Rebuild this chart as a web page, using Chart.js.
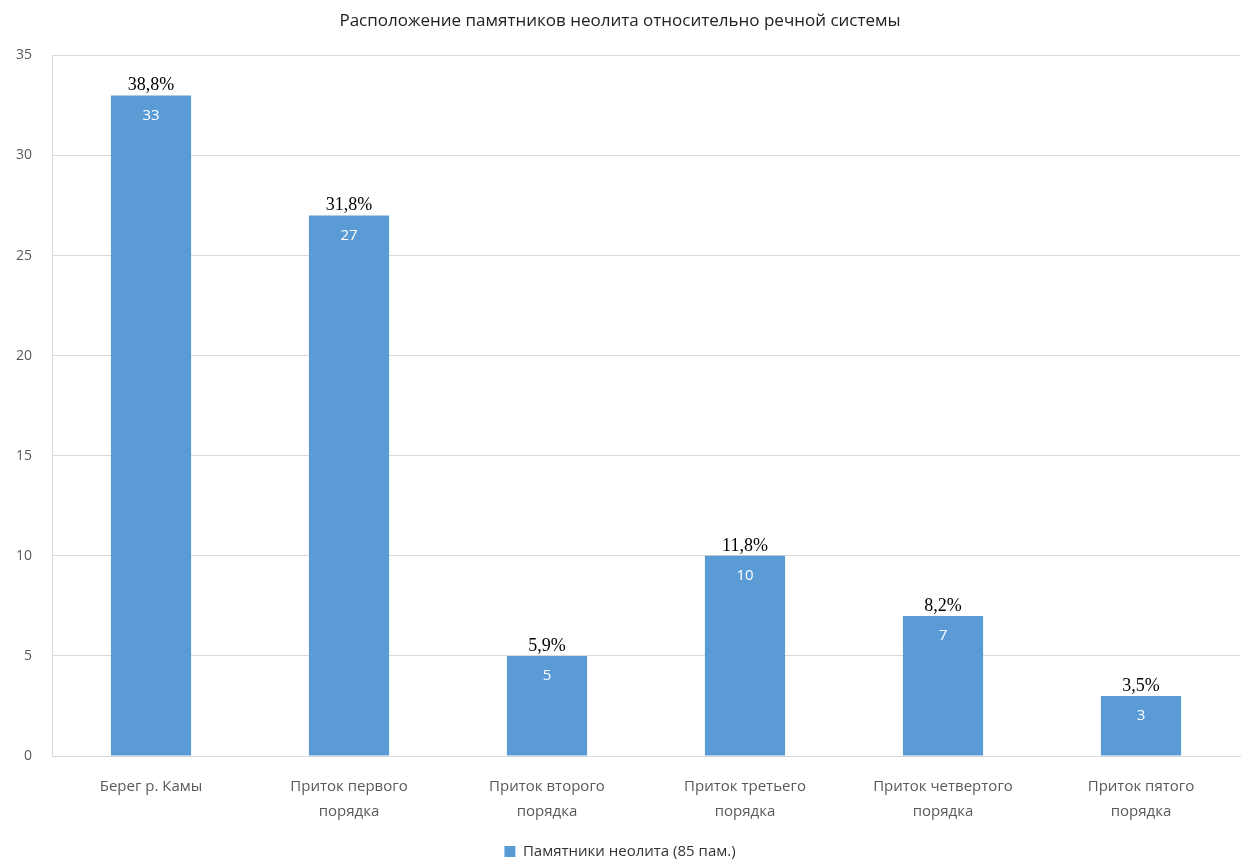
<!DOCTYPE html>
<html>
<head>
<meta charset="utf-8">
<script src="https://cdn.jsdelivr.net/npm/chart.js@4/dist/chart.umd.min.js"></script>
<style>
  html, body { margin: 0; padding: 0; background: #fff; }
  #wrap { width: 1246px; height: 863px; }
</style>
</head>
<body>
<div id="wrap"><canvas id="myChart" width="1246" height="863"></canvas></div>
<script>
// data
const categories = [
  ['Берег р. Камы'],
  ['Приток первого', 'порядка'],
  ['Приток второго', 'порядка'],
  ['Приток третьего', 'порядка'],
  ['Приток четвертого', 'порядка'],
  ['Приток пятого', 'порядка']
]
const counts = [33, 27, 5, 10, 7, 3]
const percents = ['38,8%', '31,8%', '5,9%', '11,8%', '8,2%', '3,5%']
const seriesName = 'Памятники неолита (85 пам.)'

const sans = "'Open Sans', 'Noto Sans', sans-serif"

// numbers inside the bars and percents above them
const barLabels = {
  id: 'barLabels',
  afterDatasetsDraw(chart) {
    const ctx = chart.ctx
    const meta = chart.getDatasetMeta(0)
    ctx.save()
    ctx.textAlign = 'center'
    meta.data.forEach((bar, i) => {
      ctx.fillStyle = '#ffffff'
      ctx.font = "15px " + sans
      ctx.textBaseline = 'middle'
      ctx.fillText(counts[i], bar.x, bar.y + 20)
      ctx.fillStyle = '#000000'
      ctx.font = "18px 'Liberation Serif', 'DejaVu Serif', serif"
      ctx.textBaseline = 'bottom'
      ctx.fillText(percents[i], bar.x, bar.y - 1)
    })
    ctx.restore()
  }
}

const ctx = document.getElementById('myChart').getContext('2d')
const myChart = new Chart(ctx, {
  type: 'bar',
  data: {
    labels: categories,
    datasets: [{
      label: seriesName,
      data: counts,
      backgroundColor: '#5b9bd5',
      barPercentage: 0.81,
      categoryPercentage: 0.5
    }]
  },
  options: {
    responsive: false,
    animation: false,
    layout: { padding: { left: 0, right: 6, top: 0, bottom: -6 } },
    plugins: {
      title: {
        display: true,
        text: 'Расположение памятников неолита относительно речной системы',
        color: '#222222',
        font: { family: sans, size: 17, weight: 'normal' },
        padding: { top: 11, bottom: 24 }
      },
      legend: {
        position: 'bottom',
        labels: {
          color: '#333333',
          font: { family: sans, size: 15 },
          boxWidth: 11,
          boxHeight: 11,
          padding: 4
        }
      },
      tooltip: { enabled: false }
    },
    scales: {
      y: {
        min: 0,
        max: 35,
        ticks: {
          stepSize: 5,
          color: '#595959',
          font: { family: sans, size: 14 },
          padding: 20
        },
        grid: { color: '#d9d9d9', drawTicks: false },
        border: { display: true, color: '#d9d9d9' },
        afterFit(scale) { scale.width = 52 }
      },
      x: {
        ticks: {
          color: '#595959',
          font: { family: sans, size: 15, lineHeight: 1.67 },
          maxRotation: 0,
          padding: 10
        },
        grid: { display: false },
        border: { display: true, color: '#d9d9d9' },
        afterFit(scale) { scale.height = 84 }
      }
    }
  },
  plugins: [barLabels]
})
</script>
</body>
</html>
